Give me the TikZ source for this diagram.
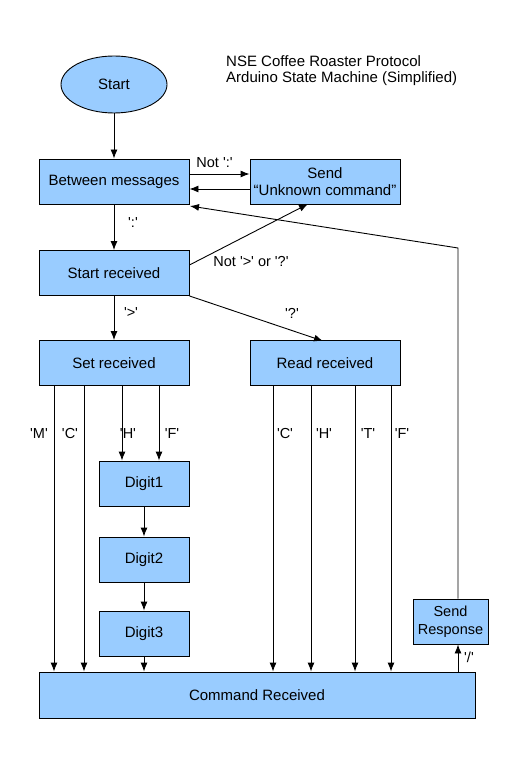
\documentclass[tikz,border=0pt]{standalone}
\usepackage{fontspec}
\setmainfont{Liberation Sans}[Ligatures=TeXOff]
\usetikzlibrary{arrows.meta,shapes.geometric}
\definecolor{boxblue}{HTML}{99CCFF}
\begin{document}
\begin{tikzpicture}[x=1pt,y=-1pt,
  font=\fontsize{15}{17}\selectfont,
  state/.style={draw=black,line width=0.9pt,fill=boxblue,rectangle,inner sep=0pt,minimum width=150pt,minimum height=45pt,align=center},
  small/.style={state,minimum width=90pt},
  conn/.style={line width=0.9pt,-{Latex[length=9pt,width=7pt]}},
  lbl/.style={inner sep=0pt,font=\fontsize{14.5}{16}\selectfont}]
\useasboundingbox (0,0) rectangle (512,783);
\node[draw=black,line width=0.9pt,fill=boxblue,ellipse,minimum width=106pt,minimum height=57pt,inner sep=0pt] (start) at (114,84.5) {Start};
\node[anchor=west,align=left,inner sep=0pt,font=\fontsize{15}{16}\selectfont] (title) at (226,71) {NSE Coffee Roaster Protocol\\Arduino State Machine (Simplified)};
\node[state] (between) at (114,181.5) {Between messages};
\node[state] (unknown) at (325,181.5) {Send\\“Unknown command”};
\node[state] (startrecv) at (114,273) {Start received};
\node[state] (setrecv) at (114,363) {Set received};
\node[state] (readrecv) at (325,363) {Read received};
\node[small] (d1) at (144,483.5) {Digit1};
\node[small] (d2) at (144,559.5) {Digit2};
\node[small] (d3) at (144,633.5) {Digit3};
\node[state,minimum width=436pt,minimum height=46pt] (cmd) at (257,695) {Command Received};
\node[state,minimum width=75pt,minimum height=45pt,font=\fontsize{14.5}{18}\selectfont] (resp) at (450.5,621.5) {Send\\Response};
% connectors
\draw[conn] (between.east |- 0,174) -- (unknown.west |- 0,174);
\node[lbl] (lnotc) at (214.5,163) {Not ':'};
\draw[conn] (start) -- (between);
\draw[conn] (unknown.west |- 0,189) -- (between.east |- 0,189);
\draw[conn] (between) -- (startrecv);
\node[lbl] (lcolon) at (133,223) {':'};
\draw[conn] (startrecv.east |- 0,265) -- (308,204.0) coordinate (u1);
\node[lbl] (lnot) at (251,262) {Not '>' or '?'};
\draw[conn] (startrecv) -- (setrecv);
\node[lbl] (lgt) at (131,313) {'>'};
\draw[conn] (startrecv.south east) -- (323,341) coordinate (r1);
\node[lbl] (lq) at (292,313) {'?'};
% set received branches
\draw[conn] (setrecv.south -| 54,0) -- (cmd.north -| 54,0);
\draw[conn] (setrecv.south -| 84,0) -- (cmd.north -| 84,0);
\draw[conn] (setrecv.south -| 122,0) -- (d1.north -| 122,0);
\draw[conn] (setrecv.south -| 159,0) -- (d1.north -| 159,0);
\node[lbl] (lm) at (39,434) {'M'};
\node[lbl] (lc) at (70,434) {'C'};
\node[lbl] (lh) at (128,434) {'H'};
\node[lbl] (lf) at (172,434) {'F'};
\draw[conn] (d1) -- (d2);
\draw[conn] (d2) -- (d3);
\draw[conn] (d3) -- (cmd.north -| d3);
% read received branches
\draw[conn] (readrecv.south -| 273,0) -- (cmd.north -| 273,0);
\draw[conn] (readrecv.south -| 311,0) -- (cmd.north -| 311,0);
\draw[conn] (readrecv.south -| 355,0) -- (cmd.north -| 355,0);
\draw[conn] (readrecv.south -| 391,0) -- (cmd.north -| 391,0);
\node[lbl] (lc2) at (285,434) {'C'};
\node[lbl] (lh2) at (324,434) {'H'};
\node[lbl] (lt2) at (368,434) {'T'};
\node[lbl] (lf2) at (402,434) {'F'};
% response
\draw[conn] (cmd.north -| 458,0) -- (resp.south -| 458,0);
\node[lbl] (lsl) at (469,657) {'/'};
\coordinate (bend) at (458,248);
\draw[conn] (resp.north -| 458,0) -- (bend) -- (190,206);
\end{tikzpicture}
\end{document}
